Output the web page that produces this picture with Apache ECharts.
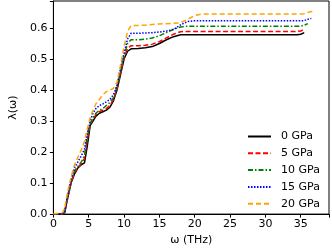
<!DOCTYPE html>
<html><head><meta charset="utf-8">
<script src="https://cdn.jsdelivr.net/npm/echarts@6/dist/echarts.min.js"></script>
<style>html,body{margin:0;padding:0;background:#fff}#c{width:332px;height:251px}</style>
</head><body><div id="c"></div>
<script>
const omega = [0,1.3,1.6,2.0,2.5,3.0,3.5,4.0,4.4,4.8,5.2,5.6,6.0,6.5,7.0,7.5,8.0,8.5,9.0,9.5,10.0,10.5,11,12,13,14,15,16,17,18,19,20,21,25,30,34.5,35,35.5,36,36.5,37];
const lam0  = [0,0,0.005,0.05,0.1,0.13,0.15,0.16,0.165,0.22,0.285,0.30,0.315,0.325,0.33,0.335,0.345,0.365,0.40,0.45,0.50,0.525,0.533,0.534,0.536,0.54,0.55,0.562,0.572,0.578,0.578,0.578,0.578,0.578,0.578,0.578,0.58,0.585,null,null,null];
const lam5  = [0,0,0.005,0.05,0.1,0.135,0.15,0.165,0.18,0.24,0.29,0.305,0.32,0.33,0.335,0.34,0.35,0.37,0.405,0.455,0.505,0.535,0.543,0.543,0.544,0.548,0.556,0.568,0.58,0.588,0.589,0.589,0.589,0.589,0.589,0.589,0.59,0.596,null,null,null];
const lam10 = [0,0,0.008,0.055,0.105,0.14,0.155,0.17,0.19,0.25,0.29,0.31,0.325,0.335,0.34,0.35,0.36,0.375,0.41,0.46,0.51,0.55,0.562,0.562,0.564,0.568,0.575,0.585,0.596,0.603,0.606,0.606,0.606,0.606,0.606,0.606,0.606,0.609,0.614,null,null];
const lam15 = [0,0,0.01,0.06,0.11,0.15,0.17,0.19,0.21,0.26,0.30,0.325,0.34,0.35,0.355,0.362,0.37,0.385,0.415,0.47,0.52,0.565,0.583,0.583,0.584,0.585,0.587,0.59,0.595,0.61,0.621,0.623,0.623,0.623,0.623,0.623,0.623,0.624,0.628,0.631,null];
const lam20 = [0,0.005,0.02,0.07,0.12,0.16,0.185,0.21,0.235,0.275,0.31,0.335,0.355,0.37,0.385,0.395,0.40,0.405,0.425,0.48,0.54,0.59,0.608,0.608,0.609,0.611,0.613,0.614,0.615,0.617,0.628,0.64,0.645,0.645,0.645,0.645,0.645,0.646,0.65,0.653,0.654];
const names = ['0 GPa','5 GPa','10 GPa','15 GPa','20 GPa'];
const colors = ['#000000','#ff0000','#008000','#0000ff','#ffa500'];
const dashes = ['solid',[5,2.5],[5,2,1.5,2],[1.5,1.5],[5,3]];
const all = [lam0,lam5,lam10,lam15,lam20];
const font = 'DejaVu Sans';
const chart = echarts.init(document.getElementById('c'));
chart.setOption({
  animation:false,
  grid:{left:40,right:1.3,top:1,bottom:32.3,show:true,borderColor:'#000',borderWidth:1,backgroundColor:'transparent'},
  legend:{orient:'vertical',left:242,top:126,itemWidth:23,itemHeight:10,itemGap:5.8,
    itemStyle:{opacity:0},
    textStyle:{fontFamily:font,fontSize:11,color:'#000',padding:[0,0,0,5]},
    data:names},
  xAxis:{type:'value',min:0,max:39,interval:5,
    name:'ω (THz)',nameLocation:'middle',nameGap:18,nameTextStyle:{fontFamily:font,fontSize:11,color:'#000'},
    axisLine:{lineStyle:{color:'#000',width:1}},axisTick:{length:3.5,lineStyle:{color:'#000'}},
    axisLabel:{fontFamily:font,fontSize:11,color:'#000',margin:5,formatter:v=>(Math.abs(v/5-Math.round(v/5))<1e-6?String(v):'')},
    splitLine:{show:false}},
  yAxis:{type:'value',min:0,max:0.687,interval:0.1,
    name:'λ(ω)',nameLocation:'middle',nameGap:34,nameTextStyle:{fontFamily:font,fontSize:11,color:'#000'},
    axisLine:{show:true,lineStyle:{color:'#000',width:1}},axisTick:{show:true,length:3.5,lineStyle:{color:'#000'}},
    axisLabel:{fontFamily:font,fontSize:11,color:'#000',margin:6,formatter:v=>(Math.abs(v*10-Math.round(v*10))<1e-6?v.toFixed(1):'')},
    splitLine:{show:false}},
  series:all.map((arr,i)=>({name:names[i],type:'line',showSymbol:false,symbol:'none',
    data:omega.map((w,j)=>[w,arr[j]]),
    lineStyle:{color:colors[i],width:1.5,type:dashes[i]},itemStyle:{color:colors[i]}}))
});
</script></body></html>
